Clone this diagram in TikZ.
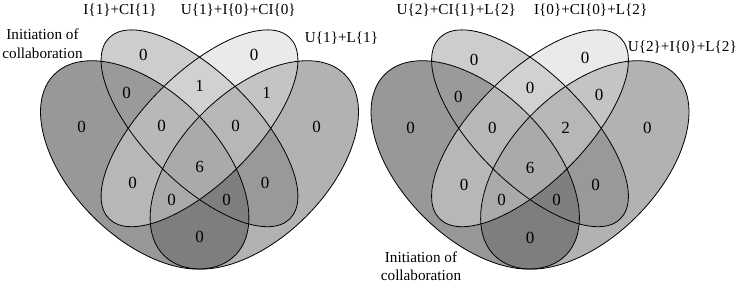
\documentclass[tikz,border=0pt]{standalone}
\usepackage{fontspec}
\setmainfont{Liberation Serif}
\definecolor{fillA}{gray}{0.20}
\definecolor{fillB}{gray}{0.61}
\definecolor{fillC}{gray}{0.84}
\definecolor{fillD}{gray}{0.40}
\newcommand{\myvennshapes}{%
  \fill[fillA, fill opacity=0.5, rotate around={-45:(144.7,119.1)}] (144.7,119.1) ellipse [x radius=127.9pt, y radius=73.1pt];
  \fill[fillB, fill opacity=0.5, rotate around={-45:(199.5,155.7)}] (199.5,155.7) ellipse [x radius=127.9pt, y radius=54.8pt];
  \fill[fillD, fill opacity=0.5, rotate around={45:(254.3,119.1)}] (254.3,119.1) ellipse [x radius=127.9pt, y radius=73.1pt];
  \fill[fillC, fill opacity=0.5, rotate around={45:(199.5,155.7)}] (199.5,155.7) ellipse [x radius=127.9pt, y radius=54.8pt];
  \draw[vennline, rotate around={-45:(144.7,119.1)}] (144.7,119.1) ellipse [x radius=127.9pt, y radius=73.1pt];
  \draw[vennline, rotate around={-45:(199.5,155.7)}] (199.5,155.7) ellipse [x radius=127.9pt, y radius=54.8pt];
  \draw[vennline, rotate around={45:(199.5,155.7)}] (199.5,155.7) ellipse [x radius=127.9pt, y radius=54.8pt];
  \draw[vennline, rotate around={45:(254.3,119.1)}] (254.3,119.1) ellipse [x radius=127.9pt, y radius=73.1pt];
}
\begin{document}
\begin{tikzpicture}[x=1pt,y=1pt,
  vennline/.style={draw=black, line width=0.8pt},
  num/.style={font=\fontsize{17}{20}\selectfont, inner sep=0pt},
  cat/.style={font=\fontsize{15.2}{20}\selectfont, inner sep=0pt, anchor=base}]
\useasboundingbox[fill=white] (0,0) rectangle (738,284);
% left diagram
\begin{scope}
  \myvennshapes
\end{scope}
% right diagram
\begin{scope}[xshift=330.5pt]
  \myvennshapes
\end{scope}
% left numbers
\node[num] (lA)    at (81.7,157.3) {0};
\node[num] (lB)    at (143.3,229) {0};
\node[num] (lC)    at (254,229) {0};
\node[num] (lD)    at (316.7,157.3) {0};
\node[num] (lAB)   at (126.7,190.7) {0};
\node[num] (lBC)   at (199.5,198) {1};
\node[num] (lCD)   at (266.7,190.7) {1};
\node[num] (lABC)  at (161.7,158) {0};
\node[num] (lBCD)  at (235.7,158) {0};
\node[num] (lABCD) at (199.5,117.3) {6};
\node[num] (lAC)   at (132.7,100.7) {0};
\node[num] (lBD)   at (265,100.7) {0};
\node[num] (lACD)  at (171.7,84) {0};
\node[num] (lABD)  at (226.7,84) {0};
\node[num] (lAD)   at (199.5,47.3) {0};
% right numbers
\node[num] (rA)    at (410.7,155.7) {0};
\node[num] (rB)    at (474,224) {0};
\node[num] (rC)    at (585,225.7) {0};
\node[num] (rD)    at (647.3,155.7) {0};
\node[num] (rAB)   at (458.3,187.3) {0};
\node[num] (rBC)   at (530,195.7) {0};
\node[num] (rCD)   at (599,189) {0};
\node[num] (rABC)  at (492.3,155.7) {0};
\node[num] (rBCD)  at (565.7,155.7) {2};
\node[num] (rABCD) at (530,115.7) {6};
\node[num] (rAC)   at (464,99) {0};
\node[num] (rBD)   at (595.7,99) {0};
\node[num] (rACD)  at (501.7,84) {0};
\node[num] (rABD)  at (556.7,84) {0};
\node[num] (rAD)   at (530,45.7) {0};
% left category labels
\node[cat] (lcatB) at (120,269) {I\{1\}+CI\{1\}};
\node[cat] (lcatC) at (238.3,269) {U\{1\}+I\{0\}+CI\{0\}};
\node[cat] (lcatD) at (341.5,241.3) {U\{1\}+L\{1\}};
\node[cat] (lcatA1) at (42.5,244.7) {Initiation of};
\node[cat] (lcatA2) at (42.5,225.7) {collaboration};
% right category labels
\node[cat] (rcatB) at (456.3,269) {U\{2\}+CI\{1\}+L\{2\}};
\node[cat] (rcatC) at (590.7,269) {I\{0\}+CI\{0\}+L\{2\}};
\node[cat] (rcatD) at (682.3,232.3) {U\{2\}+I\{0\}+L\{2\}};
\node[cat] (rcatA1) at (421,22) {Initiation of};
\node[cat] (rcatA2) at (421,3.5) {collaboration};
\end{tikzpicture}
\end{document}
